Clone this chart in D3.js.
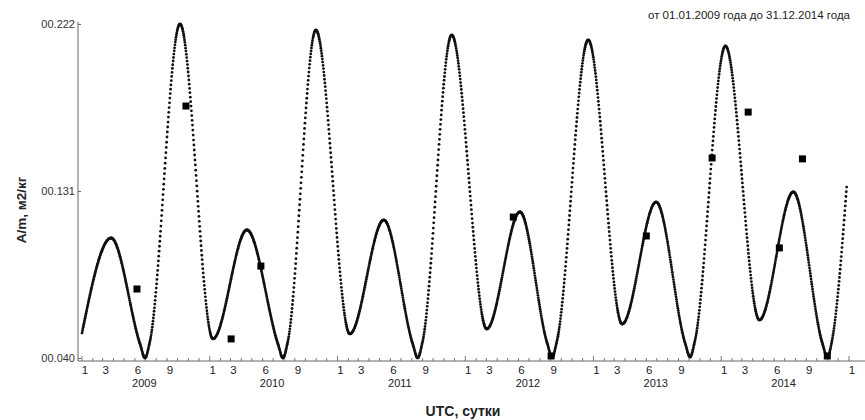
<!DOCTYPE html>
<html>
<head>
<meta charset="utf-8">
<script src="https://cdn.jsdelivr.net/npm/d3@7"></script>
<style>
  body { margin: 0; background: #fff; }
  svg { display: block; font-family: "Liberation Sans", Arial, sans-serif; }
</style>
</head>
<body>
<script>
// curve: read at peaks, troughs and a few flank points
const curveDates = [
  "2009-01-01", "2009-03-25", "2009-06-16", "2009-06-30", "2009-07-14", "2009-10-08",
  "2010-01-10", "2010-04-17", "2010-07-15", "2010-07-29", "2010-08-12", "2010-10-31",
  "2011-02-05", "2011-05-13", "2011-08-04", "2011-08-18", "2011-09-01", "2011-11-23",
  "2012-03-02", "2012-06-05", "2012-08-22", "2012-09-05", "2012-09-19", "2012-12-17",
  "2013-03-24", "2013-06-29", "2013-09-20", "2013-10-04", "2013-10-18", "2014-01-13",
  "2014-04-20", "2014-07-26", "2014-10-17", "2014-10-31", "2014-11-14", "2014-12-26"
];
const curveValues = [
  0.0536, 0.1054, 0.0475, 0.0400, 0.0490, 0.2220,
  0.0504, 0.1098, 0.0475, 0.0400, 0.0490, 0.2187,
  0.0531, 0.1152, 0.0475, 0.0400, 0.0490, 0.2160,
  0.0558, 0.1196, 0.0480, 0.0405, 0.0495, 0.2133,
  0.0585, 0.1250, 0.0480, 0.0405, 0.0495, 0.2100,
  0.0607, 0.1305, 0.0480, 0.0405, 0.0500, 0.1348
];

// measured points (squares)
const pointDates = [
  "2009-06-07", "2009-10-25", "2010-03-03", "2010-05-27", "2012-05-17", "2012-09-02",
  "2013-06-01", "2013-12-06", "2014-03-19", "2014-06-16", "2014-08-21", "2014-10-31"
];
const pointValues = [
  0.0776, 0.1773, 0.0504, 0.0901, 0.1168, 0.0411,
  0.1065, 0.1490, 0.1740, 0.1000, 0.1485, 0.0411
];

const yTicks = [0.040, 0.131, 0.222];
const monthLabels = [1, 3, 6, 9];
const years = [2009, 2010, 2011, 2012, 2013, 2014];
const title = "от 01.01.2009 года до 31.12.2014 года";
const yTitle = "A/m, м2/кг";
const xTitle = "UTC, сутки";

const W = 865, H = 420;
const parse = d3.utcParse("%Y-%m-%d");

const svg = d3.select("body").append("svg")
  .attr("width", W).attr("height", H);
svg.append("rect").attr("width", W).attr("height", H).attr("fill", "#fff");

const x = d3.scaleUtc()
  .domain([parse("2009-01-01"), parse("2015-01-01")])
  .range([82, 849]);
const y = d3.scaleLinear()
  .domain([0.040, 0.222])
  .range([358, 24]);

const axisY = 361, axisX = 78;

// axes lines
svg.append("line")
  .attr("x1", axisX).attr("x2", W)
  .attr("y1", axisY).attr("y2", axisY)
  .attr("stroke", "#666").attr("stroke-width", 1);
svg.append("line")
  .attr("x1", axisX).attr("x2", axisX)
  .attr("y1", y.range()[1] - 2).attr("y2", axisY)
  .attr("stroke", "#666").attr("stroke-width", 1);

// y ticks
const yAxis = d3.axisLeft(y)
  .tickValues(yTicks)
  .tickSizeInner(-3)
  .tickSizeOuter(0)
  .tickPadding(3)
  .tickFormat(d => "00." + d3.format(".3f")(d).split(".")[1]);
const gy = svg.append("g")
  .attr("transform", `translate(${axisX},0)`)
  .call(yAxis);
gy.select(".domain").remove();
gy.selectAll("line").attr("stroke", "#666");
gy.selectAll("text")
  .attr("font-size", 11)
  .attr("fill", "#333")
  .attr("font-family", "Liberation Sans, Arial, sans-serif");

// x monthly ticks
const months = d3.utcMonth.range(parse("2009-01-01"), parse("2015-01-02"));
svg.append("g").selectAll("line")
  .data(months)
  .join("line")
  .attr("x1", d => x(d)).attr("x2", d => x(d))
  .attr("y1", axisY)
  .attr("y2", d => axisY - (d.getUTCMonth() === 0 ? 5 : 3))
  .attr("stroke", "#777").attr("stroke-width", 1);

const labelled = months.filter(d =>
  monthLabels.includes(d.getUTCMonth() + 1) &&
  (d.getUTCFullYear() < 2015 || d.getUTCMonth() === 0));
svg.append("g").selectAll("text")
  .data(labelled)
  .join("text")
  .attr("x", d => x(d) + 3)
  .attr("y", axisY + 13)
  .attr("text-anchor", "middle")
  .attr("font-size", 11.5)
  .attr("fill", "#222")
  .text(d => d.getUTCMonth() + 1);

svg.append("g").selectAll("text")
  .data(years)
  .join("text")
  .attr("x", d => x(parse(d + "-06-28")))
  .attr("y", axisY + 26)
  .attr("text-anchor", "middle")
  .attr("font-size", 11)
  .attr("fill", "#222")
  .text(d => d);

// titles
svg.append("text")
  .attr("x", 850).attr("y", 19)
  .attr("text-anchor", "end")
  .attr("font-size", 11.5)
  .attr("fill", "#222")
  .text(title);

svg.append("text")
  .attr("transform", "translate(26,210) rotate(-90)")
  .attr("text-anchor", "middle")
  .attr("font-size", 13.5)
  .attr("font-weight", "bold")
  .attr("fill", "#222")
  .text(yTitle);

svg.append("text")
  .attr("x", 463).attr("y", 416)
  .attr("text-anchor", "middle")
  .attr("font-size", 14)
  .attr("font-weight", "bold")
  .attr("fill", "#222")
  .text(xTitle);

// curve: built with d3.line, then drawn as daily dots along it
const curveData = curveDates.map((d, i) => ({ date: parse(d), value: curveValues[i] }));
const line = d3.line()
  .x(d => x(d.date))
  .y(d => y(d.value))
  .curve(d3.curveMonotoneX);

const guide = svg.append("path")
  .attr("d", line(curveData))
  .attr("fill", "none")
  .attr("stroke", "none");

const node = guide.node();
const total = node.getTotalLength();
const dayPx = x(parse("2009-01-02")) - x(parse("2009-01-01"));
const dots = [];
let lastX = -Infinity;
for (let s = 0; s <= total; s += 0.25) {
  const p = node.getPointAtLength(s);
  if (p.x - lastX >= dayPx) {
    dots.push({ x: p.x, y: p.y });
    lastX = p.x;
  }
}
svg.append("g").selectAll("circle")
  .data(dots)
  .join("circle")
  .attr("cx", d => d.x)
  .attr("cy", d => d.y)
  .attr("r", 1.4)
  .attr("fill", "#111");

// squares
const pts = pointDates.map((d, i) => ({ date: parse(d), value: pointValues[i] }));
svg.append("g").selectAll("rect")
  .data(pts)
  .join("rect")
  .attr("x", d => x(d.date) - 3.5)
  .attr("y", d => y(d.value) - 3.5)
  .attr("width", 7)
  .attr("height", 7)
  .attr("fill", "#000");
</script>
</body>
</html>
